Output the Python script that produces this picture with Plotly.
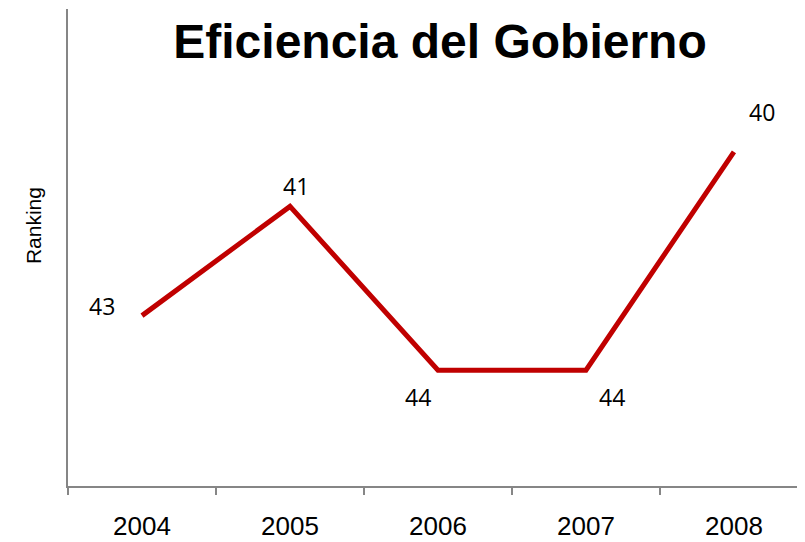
"script to produce the government efficiency ranking chart."

import plotly.graph_objects as go

years = ["2004", "2005", "2006", "2007", "2008"]
ranking = [43, 41, 44, 44, 40]
label_shift_x = [-40, 6, -20, 26, 28]
label_shift_y = [10, 20, -27, -27, 40]

fig = go.Figure()
fig.add_scatter(
    x=years,
    y=ranking,
    mode="lines",
    line={"color": "#C00000", "width": 5},
    showlegend=False,
    hoverinfo="skip",
)

# data labels, placed beside each point like the original
# (numeric-looking category names are read as indices by annotations, so use the index)
for ind, (value, dx, dy) in enumerate(zip(ranking, label_shift_x, label_shift_y)):
    fig.add_annotation(
        x=ind,
        y=value,
        xref="x",
        yref="y",
        text=str(value),
        showarrow=False,
        xshift=dx,
        yshift=dy,
        font={"family": "Open Sans, Lato, sans-serif", "size": 23, "color": "#000000"},
    )

fig.add_annotation(
    text="Ranking",
    xref="paper",
    yref="paper",
    x=-0.0475,
    y=0.547,
    xanchor="center",
    yanchor="middle",
    textangle=-90,
    showarrow=False,
    font={"family": "Liberation Sans, Arial, sans-serif", "size": 21, "color": "#000000"},
)

# page body adds an 8px offset, so the figure is 8px smaller than the window
fig.update_layout(
    width=797,
    height=534,
    margin={"l": 60, "r": 0, "t": 1, "b": 56},
    paper_bgcolor="white",
    plot_bgcolor="white",
    title={
        "text": "<b>Eficiencia del Gobierno</b>",
        "x": 432 / 797,
        "xanchor": "center",
        "y": 1 - 33 / 534,
        "yanchor": "middle",
        "font": {"family": "Liberation Sans, Arial, sans-serif", "size": 48, "color": "#000000"},
    },
)
fig.update_xaxes(
    type="category",
    range=[-0.5, 4.48],
    showline=True,
    linecolor="#868686",
    linewidth=2,
    ticks="outside",
    tickson="boundaries",
    ticklen=7,
    tickcolor="#868686",
    tickwidth=2,
    showgrid=False,
    zeroline=False,
    ticklabelstandoff=16,
    tickfont={"family": "Liberation Sans, Arial, sans-serif", "size": 26, "color": "#000000"},
)
fig.update_yaxes(
    range=[46.12, 37.385],
    showline=True,
    linecolor="#868686",
    linewidth=2,
    showticklabels=False,
    showgrid=False,
    zeroline=False,
)

fig.write_html("out.html")
